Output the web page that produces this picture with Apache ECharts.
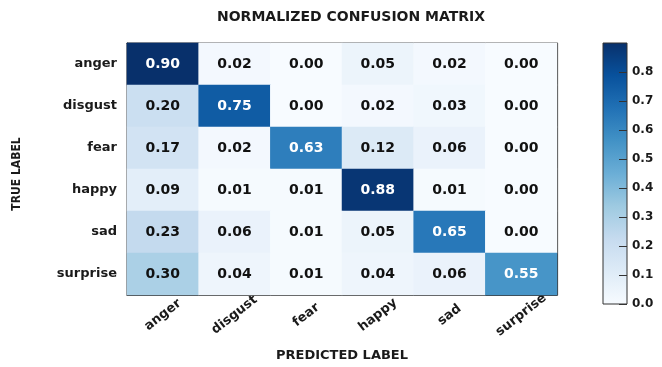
<!DOCTYPE html>
<html>
<head>
<meta charset="utf-8">
<script src="https://cdn.jsdelivr.net/npm/echarts@6/dist/echarts.min.js"></script>
<style>html,body{margin:0;padding:0;background:#fff}#c{width:662px;height:367px}</style>
</head>
<body>
<div id="c"></div>
<script>
var predictedLabels = ['anger', 'disgust', 'fear', 'happy', 'sad', 'surprise'];
var trueLabels = ['anger', 'disgust', 'fear', 'happy', 'sad', 'surprise'];
var rowAnger    = [0.90, 0.02, 0.00, 0.05, 0.02, 0.00];
var rowDisgust  = [0.20, 0.75, 0.00, 0.02, 0.03, 0.00];
var rowFear     = [0.17, 0.02, 0.63, 0.12, 0.06, 0.00];
var rowHappy    = [0.09, 0.01, 0.01, 0.88, 0.01, 0.00];
var rowSad      = [0.23, 0.06, 0.01, 0.05, 0.65, 0.00];
var rowSurprise = [0.30, 0.04, 0.01, 0.04, 0.06, 0.55];
var colorbarTicks = [0.0, 0.1, 0.2, 0.3, 0.4, 0.5, 0.6, 0.7, 0.8];

var rows = [rowAnger, rowDisgust, rowFear, rowHappy, rowSad, rowSurprise];
var data = [];
rows.forEach(function (r, yi) {
  r.forEach(function (v, xi) { data.push([xi, yi, v]); });
});

var FONT = "'DejaVu Sans', Verdana, sans-serif";
var blues = ['#f7fbff', '#deebf7', '#c6dbef', '#9ecae1', '#6baed6', '#4292c6', '#2171b5', '#08519c', '#08306b'];
var VMAX = 0.9;

var stops = blues.map(function (c, i) { return {offset: 1 - i / (blues.length - 1), color: c}; }).reverse();

var chart = echarts.init(document.getElementById('c'), null, {renderer: 'canvas'});
chart.setOption({
  animation: false,
  backgroundColor: '#fff',
  title: {
    text: 'NORMALIZED CONFUSION MATRIX',
    left: 212, top: 5,
    textStyle: {fontFamily: FONT, fontWeight: 'bold', fontSize: 14, color: '#1a1a1a'}
  },
  grid: [
    {left: 127, top: 43, width: 430, height: 260, show: true, borderColor: '#3a3a3a', borderWidth: 1, backgroundColor: 'transparent'},
    {left: 603, top: 43, width: 24, height: 261, show: false}
  ],
  graphic: [{
    type: 'rect', z: 1, silent: true,
    shape: {x: 603, y: 43, width: 24, height: 261},
    style: {
      fill: new echarts.graphic.LinearGradient(0, 0, 0, 1, stops),
      stroke: '#333', lineWidth: 1
    }
  }],
  xAxis: [
    {
      type: 'category', data: predictedLabels, gridIndex: 0, position: 'bottom',
      axisLine: {show: true, lineStyle: {color: '#3a3a3a', width: 1.2}},
      axisTick: {show: true, inside: true, alignWithLabel: true, length: 5, lineStyle: {color: '#333'}},
      axisLabel: {rotate: 38, align: 'center', verticalAlign: 'middle', margin: 20, fontFamily: FONT, fontWeight: 'bold', fontSize: 13, color: '#1a1a1a'},
      name: 'PREDICTED LABEL', nameLocation: 'middle', nameGap: 54,
      nameTextStyle: {fontFamily: FONT, fontWeight: 'bold', fontSize: 13, color: '#1a1a1a'},
      splitLine: {show: false}
    },
    {
      type: 'category', data: predictedLabels, gridIndex: 0, position: 'top',
      axisLine: {show: true, lineStyle: {color: '#3a3a3a', width: 1.2}},
      axisTick: {show: true, inside: true, alignWithLabel: true, length: 5, lineStyle: {color: '#333'}},
      axisLabel: {show: false}, splitLine: {show: false}
    },
    {type: 'value', gridIndex: 1, show: false, min: 0, max: 1}
  ],
  yAxis: [
    {
      type: 'category', data: trueLabels, gridIndex: 0, inverse: true, position: 'left',
      axisLine: {show: true, lineStyle: {color: '#3a3a3a', width: 1.2}},
      axisTick: {show: true, inside: true, alignWithLabel: true, length: 5, lineStyle: {color: '#333'}},
      axisLabel: {margin: 10, fontFamily: FONT, fontWeight: 'bold', fontSize: 13, color: '#1a1a1a'},
      name: 'TRUE LABEL', nameLocation: 'middle', nameGap: 104, nameRotate: 90,
      nameTextStyle: {fontFamily: "'DejaVu Sans Condensed', 'Liberation Sans Narrow', sans-serif", fontWeight: 'bold', fontSize: 12, color: '#1a1a1a', padding: [0, 10, 0, 0]},
      splitLine: {show: false}
    },
    {
      type: 'category', data: trueLabels, gridIndex: 0, inverse: true, position: 'right',
      axisLine: {show: true, lineStyle: {color: '#3a3a3a', width: 1.2}},
      axisTick: {show: true, inside: true, alignWithLabel: true, length: 5, lineStyle: {color: '#333'}},
      axisLabel: {show: false}, splitLine: {show: false}
    },
    {
      type: 'value', gridIndex: 1, position: 'right', min: 0, max: VMAX, interval: 0.1, z: 5,
      axisLine: {show: false, onZero: false},
      axisTick: {show: true, inside: true, length: 8, lineStyle: {color: '#333'}},
      axisLabel: {margin: 5, showMaxLabel: false, fontFamily: FONT, fontWeight: 'bold', fontSize: 12, color: '#1a1a1a',
        formatter: function (v) { return colorbarTicks.indexOf(Math.round(v * 10) / 10) >= 0 ? v.toFixed(1) : ''; }},
      splitLine: {show: false}
    }
  ],
  visualMap: {
    type: 'continuous', min: 0, max: VMAX, seriesIndex: 0, show: false,
    inRange: {color: blues}
  },
  series: [{
    type: 'heatmap', xAxisIndex: 0, yAxisIndex: 0, data: data,
    itemStyle: {borderWidth: 0},
    emphasis: {disabled: true},
    label: {
      show: true,
      formatter: function (p) { var v = p.value[2]; return (v > 0.45 ? '{w|' : '{b|') + v.toFixed(2) + '}'; },
      rich: {
        w: {color: '#ffffff', fontFamily: FONT, fontWeight: 'bold', fontSize: 14},
        b: {color: '#111111', fontFamily: FONT, fontWeight: 'bold', fontSize: 14}
      }
    }
  }]
});
</script>
</body>
</html>
